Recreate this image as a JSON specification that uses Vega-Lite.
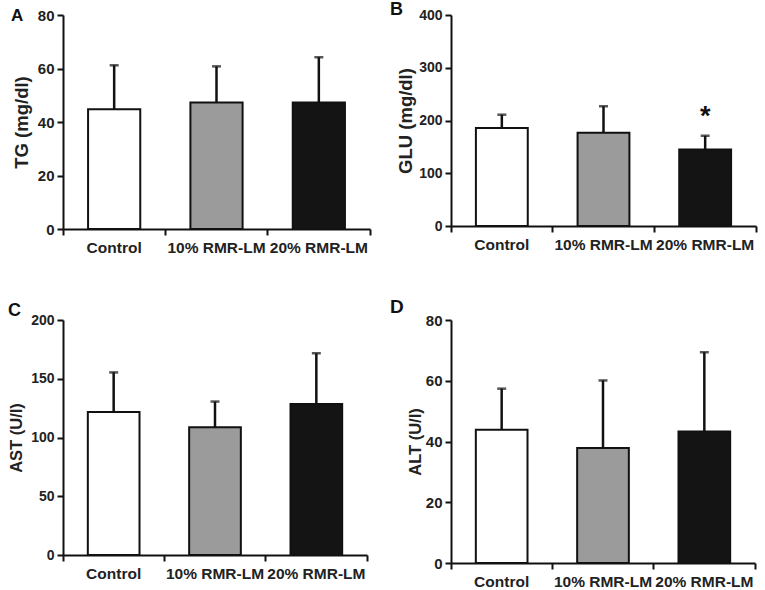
{
  "$schema": "https://vega.github.io/schema/vega-lite/v6.json",
  "background": "white",
  "padding": {"left": 8, "top": 0, "right": 5, "bottom": 5},
  "datasets": {
    "tg": [
      {"group": "Control", "mean": 44.8, "upper": 61.2},
      {"group": "10% RMR-LM", "mean": 47.3, "upper": 60.8},
      {"group": "20% RMR-LM", "mean": 47.3, "upper": 64.2}
    ],
    "glu": [
      {"group": "Control", "mean": 186, "upper": 211, "sig": ""},
      {"group": "10% RMR-LM", "mean": 177, "upper": 227, "sig": ""},
      {"group": "20% RMR-LM", "mean": 145, "upper": 171, "sig": "*", "sigy": 192}
    ],
    "ast": [
      {"group": "Control", "mean": 121.6, "upper": 155.4},
      {"group": "10% RMR-LM", "mean": 108.8, "upper": 130.6},
      {"group": "20% RMR-LM", "mean": 128.6, "upper": 171.6}
    ],
    "alt": [
      {"group": "Control", "mean": 43.9, "upper": 57.4},
      {"group": "10% RMR-LM", "mean": 37.9, "upper": 60.1},
      {"group": "20% RMR-LM", "mean": 43.3, "upper": 69.4}
    ]
  },
  "config": {
    "font": "Liberation Sans",
    "view": {"stroke": null},
    "title": {"fontSize": 18, "fontWeight": "bold", "anchor": "start", "frame": "group", "baseline": "alphabetic", "color": "#111"},
    "axis": {
      "grid": false,
      "domainColor": "#111",
      "domainWidth": 2,
      "tickColor": "#111",
      "tickWidth": 2,
      "tickSize": 6,
      "labelFont": "Liberation Sans",
      "labelFontWeight": "bold",
      "labelColor": "#222",
      "titleFont": "Liberation Sans",
      "titleFontWeight": "bold",
      "titleColor": "#222"
    },
    "axisX": {"labelAngle": 0, "bandPosition": 1, "tickExtra": true, "labelPadding": 5, "labelFontSize": 15.5, "title": null},
    "axisY": {"labelPadding": 3}
  },
  "bounds": "flush",
  "columns": 2,
  "spacing": {"row": 91, "column": 81},
  "concat": [
    {
      "title": {"text": "A", "dx": -52, "offset": -17, "fontSize": 17},
      "width": 307, "height": 214,
      "data": {"name": "tg"},
      "encoding": {
        "x": {"field": "group", "type": "nominal", "sort": null, "scale": {"paddingInner": 0, "paddingOuter": 0}, "axis": {"labelDx": -51}}
      },
      "layer": [
        {"mark": {"type": "bar", "width": {"band": 0.51}, "stroke": "#111", "strokeWidth": 2},
         "encoding": {"y": {"field": "mean", "type": "quantitative", "scale": {"domain": [0, 80]}, "axis": {"values": [0, 20, 40, 60, 80], "title": "TG (mg/dl)", "labelFontSize": 15, "titleFontSize": 18.5, "titlePadding": 6}},
          "fill": {"field": "group", "type": "nominal", "sort": null, "scale": {"domain": ["Control", "10% RMR-LM", "20% RMR-LM"], "range": ["#ffffff", "#9b9b9b", "#141414"]}, "legend": null}}},
        {"mark": {"type": "rule", "color": "#111", "strokeWidth": 2.5},
         "encoding": {"y": {"field": "mean", "type": "quantitative"}, "y2": {"field": "upper"}}},
        {"mark": {"type": "tick", "color": "#111", "thickness": 2.5, "size": 9},
         "encoding": {"y": {"field": "upper", "type": "quantitative"}}}
      ]
    },
    {
      "title": {"text": "B", "dx": -61, "offset": -10.5, "fontSize": 18},
      "width": 305, "height": 211,
      "data": {"name": "glu"},
      "encoding": {
        "x": {"field": "group", "type": "nominal", "sort": null, "scale": {"paddingInner": 0, "paddingOuter": 0}, "axis": {"labelDx": -51}}
      },
      "layer": [
        {"mark": {"type": "bar", "width": {"band": 0.51}, "stroke": "#111", "strokeWidth": 2},
         "encoding": {"y": {"field": "mean", "type": "quantitative", "scale": {"domain": [0, 400]}, "axis": {"values": [0, 100, 200, 300, 400], "title": "GLU (mg/dl)", "labelFontSize": 14, "titleFontSize": 18.5, "titlePadding": 3}},
          "fill": {"field": "group", "type": "nominal", "sort": null, "scale": {"domain": ["Control", "10% RMR-LM", "20% RMR-LM"], "range": ["#ffffff", "#9b9b9b", "#141414"]}, "legend": null}}},
        {"mark": {"type": "rule", "color": "#111", "strokeWidth": 2.5},
         "encoding": {"y": {"field": "mean", "type": "quantitative"}, "y2": {"field": "upper"}}},
        {"mark": {"type": "tick", "color": "#111", "thickness": 2.5, "size": 9},
         "encoding": {"y": {"field": "upper", "type": "quantitative"}}},
        {"transform": [{"filter": "datum.sig == '*'"}],
         "mark": {"type": "text", "fontSize": 27, "fontWeight": "bold", "color": "#111", "baseline": "alphabetic"},
         "encoding": {"y": {"field": "sigy", "type": "quantitative"}, "text": {"field": "sig"}}}
      ]
    },
    {
      "title": {"text": "C", "dx": -55, "offset": -6.5, "fontSize": 18},
      "width": 304, "height": 235,
      "data": {"name": "ast"},
      "encoding": {
        "x": {"field": "group", "type": "nominal", "sort": null, "scale": {"paddingInner": 0, "paddingOuter": 0}, "axis": {"labelDx": -50.7}}
      },
      "layer": [
        {"mark": {"type": "bar", "width": {"band": 0.51}, "stroke": "#111", "strokeWidth": 2},
         "encoding": {"y": {"field": "mean", "type": "quantitative", "scale": {"domain": [0, 200]}, "axis": {"values": [0, 50, 100, 150, 200], "title": "AST (U/l)", "labelFontSize": 14, "titleFontSize": 16.5, "titlePadding": 6}},
          "fill": {"field": "group", "type": "nominal", "sort": null, "scale": {"domain": ["Control", "10% RMR-LM", "20% RMR-LM"], "range": ["#ffffff", "#9b9b9b", "#141414"]}, "legend": null}}},
        {"mark": {"type": "rule", "color": "#111", "strokeWidth": 2.5},
         "encoding": {"y": {"field": "mean", "type": "quantitative"}, "y2": {"field": "upper"}}},
        {"mark": {"type": "tick", "color": "#111", "thickness": 2.5, "size": 9},
         "encoding": {"y": {"field": "upper", "type": "quantitative"}}}
      ]
    },
    {
      "title": {"text": "D", "dx": -61, "offset": -4, "fontSize": 19},
      "width": 304, "height": 243,
      "data": {"name": "alt"},
      "encoding": {
        "x": {"field": "group", "type": "nominal", "sort": null, "scale": {"paddingInner": 0, "paddingOuter": 0}, "axis": {"labelDx": -50.7}}
      },
      "layer": [
        {"mark": {"type": "bar", "width": {"band": 0.51}, "stroke": "#111", "strokeWidth": 2},
         "encoding": {"y": {"field": "mean", "type": "quantitative", "scale": {"domain": [0, 80]}, "axis": {"values": [0, 20, 40, 60, 80], "title": "ALT (U/l)", "labelFontSize": 15, "titleFontSize": 16.5, "titlePadding": 2}},
          "fill": {"field": "group", "type": "nominal", "sort": null, "scale": {"domain": ["Control", "10% RMR-LM", "20% RMR-LM"], "range": ["#ffffff", "#9b9b9b", "#141414"]}, "legend": null}}},
        {"mark": {"type": "rule", "color": "#111", "strokeWidth": 2.5},
         "encoding": {"y": {"field": "mean", "type": "quantitative"}, "y2": {"field": "upper"}}},
        {"mark": {"type": "tick", "color": "#111", "thickness": 2.5, "size": 9},
         "encoding": {"y": {"field": "upper", "type": "quantitative"}}}
      ]
    }
  ]
}
